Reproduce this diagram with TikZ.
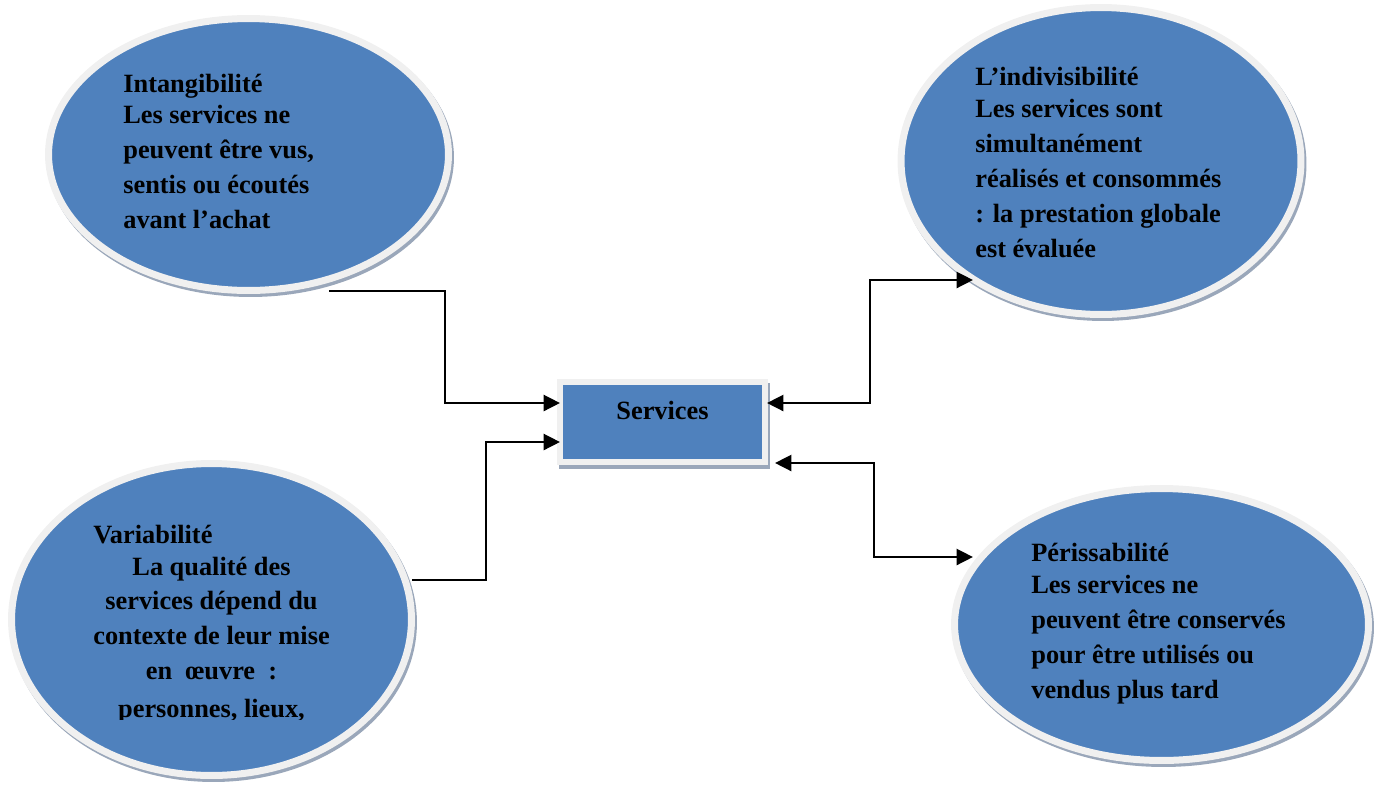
\documentclass[tikz,border=0pt]{standalone}
\usepackage{fontspec}
\setmainfont{Liberation Serif}
\usetikzlibrary{shapes.geometric,arrows.meta,calc,shadows}
\definecolor{fillblue}{HTML}{4F81BD}
\definecolor{rimgray}{HTML}{F0F0F0}
\definecolor{shadegray}{HTML}{9AA7BA}
\begin{document}
\begin{tikzpicture}[x=0.02cm,y=-0.02cm,
  bevel/.style={fill=fillblue, draw=rimgray, inner sep=0pt, outer sep=0pt},
  oval/.style={bevel, ellipse, line width=0.14cm,
    general shadow={draw=shadegray, fill=shadegray, line width=0.14cm,
      shadow xshift=0.04cm, shadow yshift=-0.06cm}},
  panel/.style={bevel, rectangle, line width=0.12cm,
    general shadow={draw=shadegray, fill=shadegray, line width=0.12cm,
      shadow xshift=0.04cm, shadow yshift=-0.08cm}},
  txt/.style={font=\bfseries\fontsize{15}{19.9}\selectfont, inner sep=0pt,
    align=left, anchor=base west},
  link/.style={line width=0.055cm, -{Triangle[length=0.33cm,width=0.32cm]}},
  twoway/.style={line width=0.055cm,
    {Triangle[length=0.33cm,width=0.32cm]}-{Triangle[length=0.33cm,width=0.32cm]}}
]
\useasboundingbox (0,0) rectangle (1381,785);

% the four characteristics and the central box
\node[oval, minimum width=8cm, minimum height=5.44cm] (intang) at (248.5,154.5) {};
\node[oval, minimum width=8cm, minimum height=6.14cm] (indiv) at (1101,161) {};
\node[oval, minimum width=8cm, minimum height=6.24cm] (variab) at (211.5,619.5) {};
\node[oval, minimum width=8.28cm, minimum height=5.44cm] (periss) at (1161.5,624.5) {};
\node[panel, minimum width=4.1cm, minimum height=1.6cm] (serv) at (662.5,422) {};

% texts (each multi-line node is placed by the baseline of its last line)
\node[txt] (intangtxt) at (123,228) {Intangibilité\\[-2.3pt]
  Les services ne\\ peuvent être vus,\\ sentis ou écoutés\\ avant l’achat};
\node[txt] (indivtxt) at (975,257) {L’indivisibilité\\[-1.7pt]
  Les services sont\\ simultanément\\ réalisés et consommés\\
  : la prestation globale\\ est évaluée};
\node[txt] (perisstxt) at (1031,698) {Périssabilité\\[-1.7pt]
  Les services ne\\ peuvent être conservés\\ pour être utilisés ou\\
  vendus plus tard};
\node[txt] (variabtitle) at (93,543) {Variabilité};
% the text frame of this oval cuts its last line short
\begin{scope}
  \clip (0,0) rectangle (1381,719.5);
  \node[txt, align=center, anchor=base] (variabtxt) at (211.5,717.5)
    {La qualité des\\ services dépend du\\ contexte de leur mise\\
     en\ \ œuvre\ \ :\\[1.5pt] personnes, lieux,};
\end{scope}
\node[txt, anchor=base] (servtxt) at (662.5,419) {Services};

% connectors
\draw[link] ($(intang.center)+(80.5,136.5)$) -- ++(116,0)
  |- ($(serv.west)+(0,-19)$);
\draw[link] ($(variab.center)+(200.5,-39.5)$) -- ++(74,0)
  |- ($(serv.west)+(0,20)$);
\draw[twoway] ($(serv.east)+(2,-19)$) -- ++(103,0)
  |- ($(indiv.center)+(-128,119)$);
\draw[twoway] ($(serv.east)+(10,41)$) -- ++(99,0)
  |- ($(periss.center)+(-188.5,-67.5)$);
\end{tikzpicture}
\end{document}
